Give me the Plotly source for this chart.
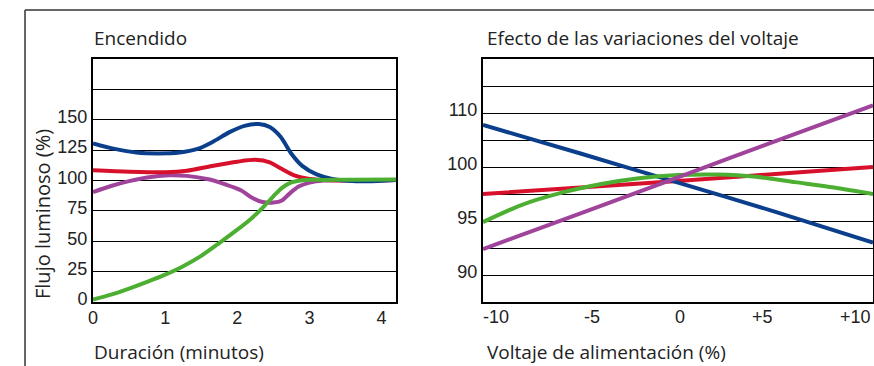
import plotly.graph_objects as go

# ---- Data: Encendido (warm-up) ----
t_blue = [0, 0.3, 0.6, 0.9, 1.2, 1.45, 1.65, 1.9, 2.1, 2.3, 2.45, 2.6, 2.75, 2.9, 3.1, 3.3, 3.5, 3.8, 4.2]
v_blue = [130.5, 126, 123, 122.3, 123, 126, 131.5, 140, 145, 146.5, 144, 136, 122, 112, 105, 101.5, 100, 99.3, 100.5]

t_red = [0, 0.5, 1.0, 1.3, 1.65, 2.0, 2.25, 2.45, 2.6, 2.8, 3.0, 3.3, 3.6, 4.2]
v_red = [108.5, 107.3, 106.8, 108, 112, 115.5, 117, 115, 110, 104, 101.3, 100.2, 100, 100.5]

t_purple = [0, 0.25, 0.5, 0.75, 1.05, 1.3, 1.6, 1.85, 2.05, 2.2, 2.35, 2.5, 2.62, 2.72, 2.85, 3.0, 3.2, 3.5, 4.2]
v_purple = [90.5, 95.5, 99.5, 102.5, 104.3, 103.8, 101, 96.5, 92, 86, 82.3, 81.8, 83.5, 89, 95, 98.3, 100, 100.3, 100.5]

t_green = [0, 0.25, 0.5, 0.75, 1.0, 1.25, 1.5, 1.75, 2.0, 2.2, 2.35, 2.5, 2.62, 2.75, 2.9, 3.2, 3.6, 4.2]
v_green = [2, 6, 11, 16.5, 22.5, 29.5, 38, 48.5, 59.5, 69, 77.5, 87, 94, 98.5, 100.3, 100.5, 100.6, 100.8]

left_ticks = [0, 25, 50, 75, 100, 125, 150, 175]
left_ticktext = ["0", "25", "50", "75", "100", "125", "150", ""]
left_xticks = [0, 1, 2, 3, 4]

# ---- Data: Efecto de las variaciones del voltaje ----
volt_blue = [-10, -5, 0, 5, 10]
flux_blue = [103.9, 101.25, 98.55, 95.85, 93.0]

volt_red = [-10, -5, 0, 5, 10]
flux_red = [97.5, 98.1, 98.7, 99.35, 100.0]

volt_purple = [-10, -5, 0, 5, 10]
flux_purple = [92.4, 95.7, 99.05, 102.4, 105.7]

volt_green = [-10, -8, -6, -4, -2, 0, 2, 4, 6, 8, 10]
flux_green = [94.9, 96.5, 97.6, 98.4, 98.95, 99.25, 99.3, 99.1, 98.6, 98.1, 97.5]

right_ticks = [90, 92.5, 95, 97.5, 100, 102.5, 105, 107.5]
right_ticktext = ["90", "", "95", "", "100", "", "110", ""]
right_xticks = [-10, -5, 0, 5, 10]
right_xticktext = ["-10", "-5", "0", "+5", "+10"]
# label placement of the hand-set voltage tick labels (anchor, pixel nudge)
right_xtick_anchor = ["left", "center", "center", "center", "right"]
right_xtick_nudge = [-2, 11.5, 2, -13.5, 0]

BLUE = "#0b3f8c"
RED = "#d7102b"
PURPLE = "#a0449b"
GREEN = "#4caf32"
LW = 4

fig = go.Figure()
for xs, ys, c in [(t_purple, v_purple, PURPLE), (t_red, v_red, RED), (t_blue, v_blue, BLUE), (t_green, v_green, GREEN)]:
    fig.add_trace(go.Scatter(x=xs, y=ys, mode="lines", line=dict(color=c, width=LW, shape="spline", smoothing=0.8),
                             xaxis="x", yaxis="y", showlegend=False, hoverinfo="skip"))
for xs, ys, c in [(volt_red, flux_red, RED), (volt_blue, flux_blue, BLUE), (volt_green, flux_green, GREEN), (volt_purple, flux_purple, PURPLE)]:
    fig.add_trace(go.Scatter(x=xs, y=ys, mode="lines", line=dict(color=c, width=LW, shape="spline", smoothing=0.8),
                             xaxis="x2", yaxis="y2", showlegend=False, hoverinfo="skip"))

W, H = 874, 366
def px_x(p):
    return p / W
def px_y(p):
    return 1 - p / H

tickfont = dict(family="Liberation Sans Narrow, Liberation Sans, Arial", size=18, color="#222")
axis_common = dict(showline=True, linecolor="black", linewidth=2, mirror=True, gridcolor="black", gridwidth=1,
                   zeroline=False, ticks="", tickfont=tickfont, fixedrange=True, automargin=False,
                   ticklabeloverflow="allow")

fig.update_layout(
    template="none",
    width=W, height=H, margin=dict(l=0, r=0, t=0, b=0, pad=0),
    paper_bgcolor="white", plot_bgcolor="white",
    xaxis=dict(domain=[px_x(93), px_x(396)], range=[0, 4.2], tickvals=left_xticks, showgrid=False,
               anchor="y", ticklabelstandoff=-2, **axis_common),
    yaxis=dict(domain=[px_y(302), px_y(59)], range=[0, 200], tickvals=left_ticks, ticktext=left_ticktext,
               showgrid=True, anchor="x", ticklabelshift=-3, **axis_common),
    xaxis2=dict(domain=[px_x(483), px_x(873)], range=[-10, 10], tickvals=right_xticks, showticklabels=False,
                showgrid=False, anchor="y2", **axis_common),
    yaxis2=dict(domain=[px_y(302), px_y(59)], range=[87.5, 110], tickvals=right_ticks, ticktext=right_ticktext,
                showgrid=True, anchor="x2", ticklabelshift=-3, **axis_common),
)

labfont = dict(family="Open Sans, Noto Sans, sans-serif", size=19, color="#222")
annots = [
    dict(text="Encendido", x=px_x(92), y=px_y(38), xref="paper", yref="paper", xanchor="left", yanchor="middle"),
    dict(text="Efecto de las variaciones del voltaje", x=px_x(485), y=px_y(38), xref="paper", yref="paper",
         xanchor="left", yanchor="middle"),
    dict(text="Duración (minutos)", x=px_x(92), y=px_y(352), xref="paper", yref="paper", xanchor="left", yanchor="middle"),
    dict(text="Voltaje de alimentación (%)", x=px_x(485), y=px_y(352), xref="paper", yref="paper",
         xanchor="left", yanchor="middle"),
    dict(text="Flujo luminoso (%)", x=px_x(42), y=px_y(301), xref="paper", yref="paper", textangle=-90,
         xanchor="center", yanchor="bottom", font=dict(family="Open Sans, Noto Sans, sans-serif", size=20, color="#222")),
]
for a in annots:
    a.setdefault("font", labfont)
    a.update(showarrow=False)
# voltage tick labels, placed at their tick values on the x2 axis
for v, txt, anc, nudge in zip(right_xticks, right_xticktext, right_xtick_anchor, right_xtick_nudge):
    annots.append(dict(text=txt, x=v, xref="x2", y=px_y(317), yref="paper", xanchor=anc, yanchor="middle",
                       xshift=nudge, showarrow=False, font=tickfont))
fig.update_layout(annotations=annots)

# outer frame of the figure
fig.add_shape(type="line", xref="paper", yref="paper", x0=px_x(25), x1=1, y0=px_y(10), y1=px_y(10),
              line=dict(color="#333", width=1.5))
fig.add_shape(type="line", xref="paper", yref="paper", x0=px_x(25), x1=px_x(25), y0=0, y1=px_y(10),
              line=dict(color="#333", width=1.5))

# make the fixed-size figure fill the page exactly (no body margin / scrollbars)
post = "document.documentElement.style.margin='0';document.body.style.margin='0';document.body.style.overflow='hidden';document.documentElement.style.overflow='hidden';"
fig.write_html("out.html", post_script=post, config={"displayModeBar": False, "staticPlot": True})
